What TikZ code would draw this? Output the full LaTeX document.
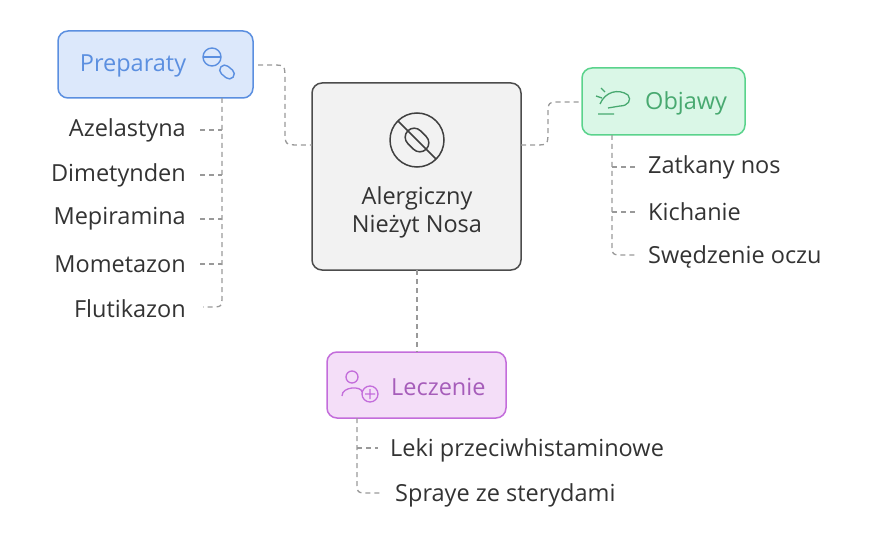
\documentclass[tikz,border=0pt]{standalone}
\usepackage{fontspec}
\setmainfont{Open Sans}
\begin{document}
\begin{tikzpicture}[x=1pt,y=-1pt,
 box/.style={rounded corners=10pt,line width=1.5pt},
 dl/.style={draw=gray!80,line width=1.3pt,dash pattern=on 5pt off 4pt},
 item/.style={font=\fontsize{23.5}{26}\selectfont,text=black!80,inner sep=0pt},
 title/.style={font=\fontsize{23.5}{28}\selectfont,inner sep=0pt}]
\useasboundingbox (0,0) rectangle (880,540);
\definecolor{bfill}{HTML}{DCE8FB}\definecolor{bline}{HTML}{5B8FE0}
\definecolor{gfill}{HTML}{DAF7E7}\definecolor{gline}{HTML}{5AD38C}
\definecolor{pfill}{HTML}{F4DEF8}\definecolor{pline}{HTML}{C36DDB}
% center
\draw[box,fill=black!5,draw=black!70] (312,83) rectangle (521,270);
\coordinate (cL) at (312,145); \coordinate (cR) at (521,145); \coordinate (cB) at (417,270);
\draw[line width=1.5pt,black!75] (417,140) circle (27);
\draw[line width=1.5pt,black!75,rounded corners=9pt,rotate around={-45:(417,140)}] (404,131) rectangle (430,149);
\draw[line width=1.5pt,black!75] (398,121) -- (436,159);
\node[title,text=black!80,align=center] (c) at (417,212) {Alergiczny\\[0pt]Nieżyt Nosa};
% preparaty
\draw[box,fill=bfill,draw=bline] (58,31) rectangle (253,98);
\node[title,text=bline] (p) at (133,66) {Preparaty};
\draw[line width=1.4pt,bline] (212,57) circle (9); \draw[line width=1.4pt,bline] (203,57)--(221,57);
\draw[line width=1.4pt,bline,fill=bfill,rounded corners=5pt,rotate around={-40:(227,72)}] (219,67) rectangle (235,77);
\draw[dl] (258,65) -- (272,65) .. controls (285,65) .. (285,80) -- (285,130) .. controls (285,145) .. (300,145) -- (cL);
\draw[dl] (222,98) -- (222,295) .. controls (222,307) .. (210,307) -- (203,307);
\foreach \t/\y in {Azelastyna/130,Dimetynden/175,Mepiramina/219,Mometazon/264,Flutikazon/309}{
 \node[item,anchor=east] (\t) at (186,\y) {\t};
 \ifnum\y<300 \draw[dl] (200,\y) -- (222,\y);\fi}
% objawy
\draw[box,fill=gfill,draw=gline] (582,68) rectangle (745,135);
\node[title,text=gline!80!black,anchor=west] (o) at (645,103) {Objawy};
\draw[line width=1.3pt,gline!80!black] (600,104) .. controls (605,92) and (618,88) .. (628,95) .. controls (632,100) and (628,106) .. (620,106) -- (608,108) (598,114) -- (614,114) (602,98)--(596,96) (605,92)--(601,88);
\draw[dl] (cR) -- (535,145) .. controls (548,145) .. (548,130) -- (548,115) .. controls (548,102) .. (562,102) -- (582,102);
\draw[dl] (612,135) -- (612,243) .. controls (612,255) .. (624,255) -- (635,255);
\foreach \t/\y/\n in {Zatkany nos/167/z,Kichanie/212/k,Swędzenie oczu/257/s}{
 \node[item,anchor=west] (\n) at (648,\y) {\t};
 \ifnum\y<250 \draw[dl] (612,\y) -- (635,\y);\fi}
% leczenie
\draw[box,fill=pfill,draw=pline] (327,352) rectangle (506,418);
\node[title,text=pline!85!black,anchor=west] (l) at (391,387) {Leczenie};
\draw[line width=1.3pt,pline] (352,377) circle (6) (342,396) .. controls (342,386) and (362,386) .. (362,392) (370,394) circle (8) (370,389)--(370,399) (365,394)--(375,394);
\draw[dl] (cB) -- (417,352);
\draw[dl] (357,418) -- (357,481) .. controls (357,493) .. (369,493) -- (380,493);
\draw[dl] (357,448) -- (378,448);
\node[item,anchor=west] (l1) at (390,450) {Leki przeciwhistaminowe};
\node[item,anchor=west] (l2) at (395,495) {Spraye ze sterydami};
\end{tikzpicture}
\end{document}
